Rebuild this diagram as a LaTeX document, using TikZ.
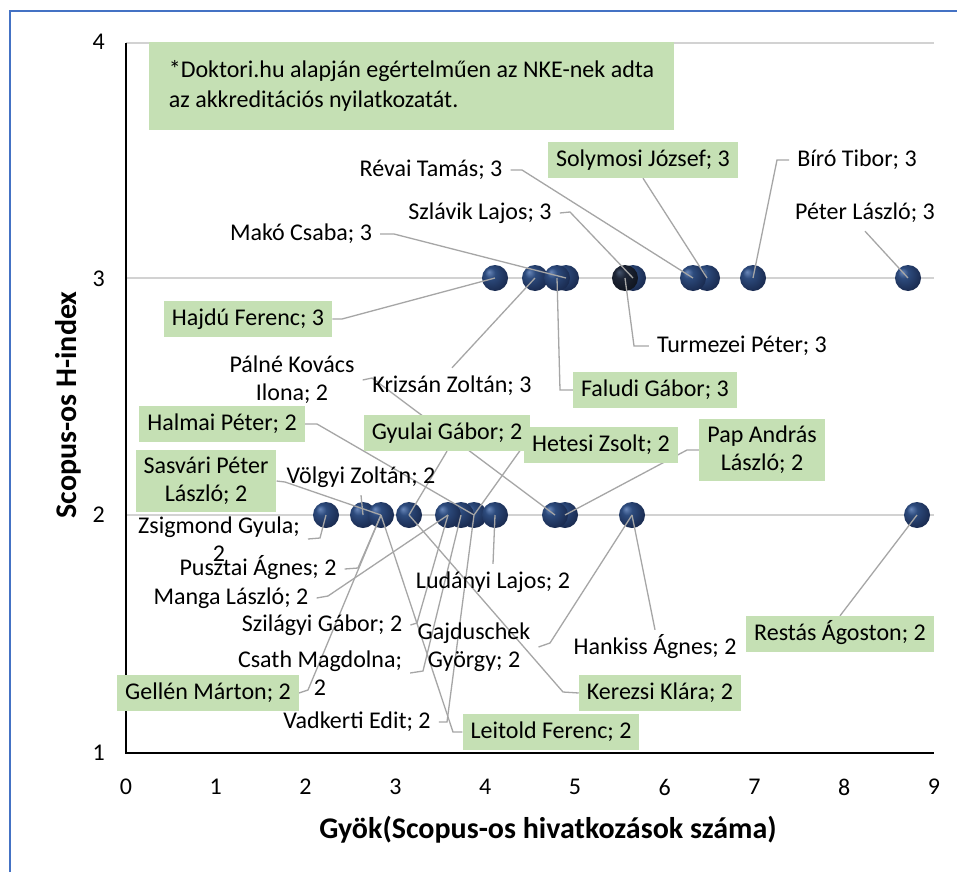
\documentclass[tikz,border=0pt]{standalone}
\usepackage{fontspec}
\setmainfont{Carlito}
\definecolor{frameblue}{RGB}{68,114,196}
\definecolor{lgreen}{RGB}{197,224,180}
\definecolor{gridgray}{RGB}{210,210,210}
\definecolor{leadgray}{RGB}{166,166,166}
\definecolor{ballhi}{RGB}{105,135,185}
\definecolor{ballmid}{RGB}{45,75,125}
\definecolor{balldark}{RGB}{24,40,76}
\definecolor{bkhi}{RGB}{70,85,110}
\definecolor{bkmid}{RGB}{30,38,55}
\definecolor{bkdark}{RGB}{15,20,30}
\pgfdeclarelayer{bg}
\pgfdeclarelayer{mid}
\pgfsetlayers{bg,mid,main}
\pgfdeclareradialshading{navyball}{\pgfpoint{-12bp}{12bp}}{color(0bp)=(ballhi); color(10bp)=(ballmid); color(32bp)=(balldark); color(50bp)=(balldark)}
\pgfdeclareradialshading{blackball}{\pgfpoint{-12bp}{12bp}}{color(0bp)=(bkhi); color(10bp)=(bkmid); color(32bp)=(bkdark); color(50bp)=(bkdark)}
\begin{document}
\begin{tikzpicture}[x=1pt,y=-1pt,
  ball/.style={circle, inner sep=0pt, minimum size=26pt, shade, shading=navyball},
  dball/.style={circle, inner sep=0pt, minimum size=26pt, shade, shading=blackball},
  lab/.style={font=\fontsize{24}{28}\selectfont, inner xsep=8pt, inner ysep=7pt, text height=17pt, text depth=5pt},
  labm/.style={font=\fontsize{24}{28}\selectfont, inner xsep=8pt, inner ysep=7pt, align=center},
  glab/.style={lab, fill=lgreen},
  glabm/.style={labm, fill=lgreen},
  lead/.style={draw=leadgray, line width=1.3pt},
  grid/.style={draw=gridgray, line width=1.5pt},
  axis/.style={draw=black, line width=2pt},
  tick/.style={font=\fontsize{24}{28}\selectfont, inner sep=0pt},
  axtitle/.style={font=\fontsize{30}{36}\selectfont\bfseries, inner sep=0pt}
]
\useasboundingbox (0,0) rectangle (957,872);

\begin{pgfonlayer}{bg}
\fill[white] (0,0) rectangle (957,872);
% frame
\draw[frameblue, line width=2pt] (10,872) -- (10,11) -- (957,11);
% grid and axes
\draw[grid] (126,43) -- (934,43);
\draw[grid] (126,278) -- (934,278);
\draw[grid] (126,515) -- (934,515);
\draw[axis] (126,43) -- (126,753) -- (934,753);
% tick labels
\node[tick, anchor=east] (y4) at (105,42) {4};
\node[tick, anchor=east] (y3) at (105,279) {3};
\node[tick, anchor=east] (y2) at (105,515) {2};
\node[tick, anchor=east] (y1) at (105,753) {1};
\foreach \i in {0,...,9} {
  \node[tick] (x\i) at ({126+89.78*\i},787) {\i};
}
\node[axtitle, rotate=90] (ytitle) at (68,405) {Scopus-os H-index};
\node[axtitle] (xtitle) at (548,830) {Gyök(Scopus-os hivatkozások száma)};

% level 3 balls
\node[ball] (b3a) at (495,278) {};
\node[ball] (b3b) at (535,278) {};
\node[ball] (b3d) at (566,278) {};
\node[ball] (b3c) at (557,278) {};
\node[ball] (b3f) at (633,278) {};
\node[dball] (b3e) at (625,278) {};
\node[ball] (b3h) at (707,278) {};
\node[ball] (b3g) at (693,278) {};
\node[ball] (b3i) at (753,278) {};
\node[ball] (b3j) at (908,278) {};
% level 2 balls
\node[ball] (c326) at (326,515) {};
\node[ball] (c363) at (363,515) {};
\node[ball] (c381) at (381,515) {};
\node[ball] (c409) at (409,515) {};
\node[ball] (c472) at (474,515) {};
\node[ball] (c460) at (461,515) {};
\node[ball] (c448) at (448,515) {};
\node[ball] (c495) at (495,515) {};
\node[ball] (c565) at (565,515) {};
\node[ball] (c555) at (555,515) {};
\node[ball] (c632) at (632,515) {};
\node[ball] (c917) at (917,515) {};
\end{pgfonlayer}

% note
\node[fill=lgreen, minimum width=525pt, minimum height=88pt, inner sep=0pt, align=left,
      font=\fontsize{24}{30}\selectfont] (note) at (411.5,86)
  {*Doktori.hu alapján egértelműen az NKE-nek adta\\az akkreditációs nyilatkozatát.};

% level 3 labels
\node[lab] (revai) at (431,170) {Révai Tamás; 3};
\node[glab] (solymosi) at (643,160) {Solymosi József; 3};
\node[lab] (biro) at (857,160) {Bíró Tibor; 3};
\node[lab] (szlavik) at (480,213) {Szlávik Lajos; 3};
\node[lab] (peterl) at (865,213) {Péter László; 3};
\node[lab] (mako) at (301,234) {Makó Csaba; 3};
\node[glab] (hajdu) at (248,319) {Hajdú Ferenc; 3};
\node[lab] (turmezei) at (742,346) {Turmezei Péter; 3};
\node[lab] (krizsan) at (452,386) {Krizsán Zoltán; 3};
\node[glab] (faludi) at (655,390) {Faludi Gábor; 3};

% level 2 labels
\node[labm] (palne) at (292,380) {Pálné Kovács\\Ilona; 2};
\node[glab] (halmai) at (222,424) {Halmai Péter; 2};
\node[glab] (hetesi) at (601,445) {Hetesi Zsolt; 2};
\node[glab] (gyulai) at (447,433) {Gyulai Gábor; 2};
\node[glabm] (pap) at (762,450) {Pap András\\László; 2};
\node[glabm] (sasvari) at (206,481) {Sasvári Péter\\László; 2};
\node[lab] (volgyi) at (361,477) {Völgyi Zoltán; 2};
\node[labm] (zsigmond) at (219,539) {Zsigmond Gyula;\\2};
\node[lab] (pusztai) at (258,569) {Pusztai Ágnes; 2};
\node[lab] (manga) at (231,598) {Manga László; 2};
\node[lab] (ludanyi) at (493,582) {Ludányi Lajos; 2};
\node[lab] (szilagyi) at (322,625) {Szilágyi Gábor; 2};
\node[labm] (gajduschek) at (474,647) {Gajduschek\\György; 2};
\node[labm] (csath) at (320,673) {Csath Magdolna;\\2};
\node[glab] (gellen) at (208,693) {Gellén Márton; 2};
\node[lab] (vadkerti) at (357,722) {Vadkerti Edit; 2};
\node[glab] (leitold) at (551,732) {Leitold Ferenc; 2};
\node[glab] (kerezsi) at (660,693) {Kerezsi Klára; 2};
\node[lab] (hankiss) at (655,648) {Hankiss Ágnes; 2};
\node[glab] (restas) at (840,634) {Restás Ágoston; 2};

% bend points
\coordinate (k-revai) at (522,170);
\coordinate (k-biro) at (777,160);
\coordinate (k-szlavik) at (570,212);
\coordinate (k-mako) at (394,234);
\coordinate (k-hajdu) at (342,319);
\coordinate (k-turmezei) at (634,346);
\coordinate (k-faludi) at (560,390);
\coordinate (k-palne) at (372,378);
\coordinate (k-halmai) at (317,424);
\coordinate (k-pap) at (687,450);
\coordinate (k-sasvari) at (285,482);
\coordinate (k-zsigmond) at (320,538);
\coordinate (k-pusztai) at (358,568);
\coordinate (k-manga) at (328,596);
\coordinate (k-szilagyi) at (417,623);
\coordinate (k-gajduschek) at (550,643);
\coordinate (k-csath) at (423,671);
\coordinate (k-gellen) at (308,690);
\coordinate (k-vadkerti) at (447,722);
\coordinate (k-leitold) at (453,732);
\coordinate (k-kerezsi) at (563,692);

\begin{pgfonlayer}{mid}
% level 3 leaders
\draw[lead] (revai.east) -- (k-revai) -- (b3g.center);
\draw[lead] (solymosi.south) -- (b3h.center);
\draw[lead] (biro.west) -- (k-biro) -- (b3i.center);
\draw[lead] (szlavik.east) -- (k-szlavik) -- (b3f.center);
\draw[lead] (peterl.south) -- (b3j.center);
\draw[lead] (mako.east) -- (k-mako) -- (b3d.center);
\draw[lead] (hajdu.east) -- (k-hajdu) -- (b3a.center);
\draw[lead] (turmezei.west) -- (k-turmezei) -- (b3e.center);
\draw[lead] (krizsan.north) -- (b3b.center);
\draw[lead] (faludi.west) -- (k-faludi) -- (b3c.center);
% level 2 leaders
\draw[lead] (palne.east) -- (k-palne) -- (c555.center);
\draw[lead] (halmai.east) -- (k-halmai) -- (c472.center);
\draw[lead] (gyulai.south) -- (c409.center);
\draw[lead] (hetesi.west) -- (c472.center);
\draw[lead] (pap.west) -- (k-pap) -- (c565.center);
\draw[lead] (sasvari.east) -- (k-sasvari) -- (c381.center);
\draw[lead] (volgyi.south) -- (c363.center);
\draw[lead] (zsigmond.east) -- (k-zsigmond) -- (c326.center);
\draw[lead] (pusztai.east) -- (k-pusztai) -- (c381.center);
\draw[lead] (manga.east) -- (k-manga) -- (c448.center);
\draw[lead] (ludanyi.north) -- (c495.center);
\draw[lead] (szilagyi.east) -- (k-szilagyi) -- (c448.center);
\draw[lead] (gajduschek.east) -- (k-gajduschek) -- (c632.center);
\draw[lead] (csath.east) -- (k-csath) -- (c460.center);
\draw[lead] (gellen.east) -- (k-gellen) -- (c381.center);
\draw[lead] (vadkerti.east) -- (k-vadkerti) -- (c472.center);
\draw[lead] (leitold.west) -- (k-leitold) -- (c381.center);
\draw[lead] (kerezsi.west) -- (k-kerezsi) -- (c409.center);
\draw[lead] (hankiss.north) -- (c632.center);
\draw[lead] (restas.north) -- (c917.center);
\end{pgfonlayer}
\end{tikzpicture}
\end{document}
